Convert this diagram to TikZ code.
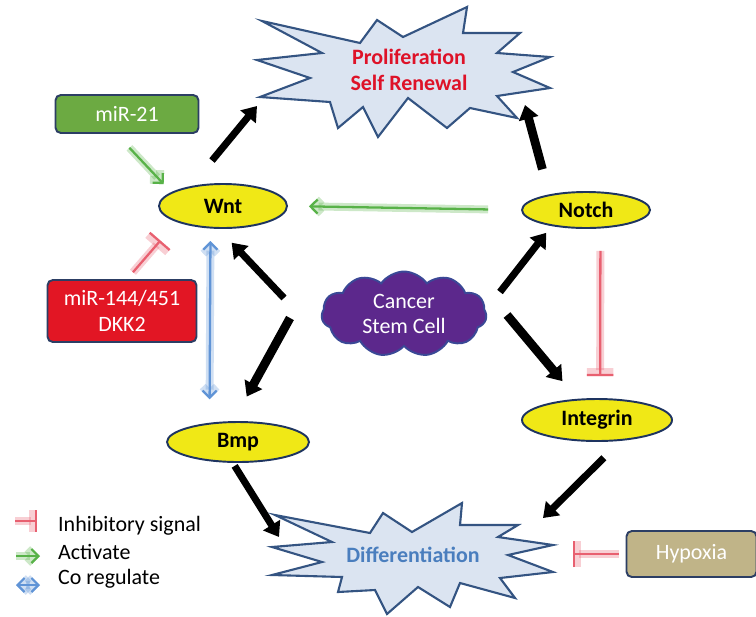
\documentclass[tikz,border=0pt]{standalone}
\usepackage{fontspec}
\setmainfont{Carlito}
\usepackage{xcolor}
\usepackage{tikz}
\usetikzlibrary{positioning,shapes,calc}
\usetikzlibrary{arrows.meta}

\definecolor{starfill}{RGB}{219,228,241}
\definecolor{starline}{RGB}{52,84,130}
\definecolor{geneyellow}{RGB}{240,232,22}
\definecolor{geneline}{RGB}{30,52,96}
\definecolor{mirgreen}{RGB}{108,170,66}
\definecolor{mirred}{RGB}{226,22,36}
\definecolor{hypoxtan}{RGB}{192,180,136}
\definecolor{boxline}{RGB}{44,62,100}
\definecolor{cscpurple}{RGB}{92,40,140}
\definecolor{cscline}{RGB}{58,72,150}
\definecolor{prolifred}{RGB}{222,18,40}
\definecolor{diffblue}{RGB}{74,126,190}
\definecolor{actgreen}{RGB}{88,178,72}
\definecolor{inhred}{RGB}{232,96,112}
\definecolor{coblue}{RGB}{96,148,214}

\begin{document}
\begin{tikzpicture}[x=0.02cm,y=-0.02cm,font=\fontsize{12.5}{14.5}\selectfont,align=center]
            \tikzstyle{burst}=[draw=starline,fill=starfill,line width=1.2pt,line join=miter]
            \tikzstyle{gene}=[ellipse,draw=geneline,fill=geneyellow,line width=1.1pt,inner sep=0pt,font=\fontsize{12.5}{14.5}\selectfont\bfseries]
            \tikzstyle{mir}=[rectangle,rounded corners=3pt,draw=boxline,line width=1.1pt,text=white]
            \tikzstyle{big}=[line width=4pt,-{Triangle[length=8pt,width=11pt]}]
            \tikzstyle{act}=[draw=actgreen,line width=1.3pt,-{Straight Barb[length=4pt,width=8pt]},preaction={draw=actgreen,line width=4.5pt,opacity=.3}]
            \tikzstyle{inh}=[draw=inhred,line width=1.3pt,-{Bar[width=15pt]},preaction={draw=inhred,line width=4.5pt,opacity=.3}]
            \tikzstyle{coreg}=[draw=coblue,line width=1.3pt,{Straight Barb[length=4pt,width=8pt]}-{Straight Barb[length=4pt,width=8pt]},preaction={draw=coblue,line width=4.5pt,opacity=.3}]

            \useasboundingbox (0,0) rectangle (756,616);
            \clip (0,0) rectangle (756,616);

            % the two outcome bursts
            \draw[burst] (262,21) -- (360,43) -- (377,20) -- (403,37) -- (467,7) -- (463,33) -- (520,33) -- (497,53)
                -- (550,57) -- (513,72) -- (550,88) -- (497,96) -- (517,118) -- (470,108) -- (447,128) -- (408,98)
                -- (378,137) -- (363,107) -- (338,128) -- (330,102) -- (260,97) -- (310,78) -- (257,60) -- (322,53) -- cycle;
            \draw[burst] (275,515) -- (370,533) -- (383,513) -- (412,532) -- (462,503) -- (460,525) -- (518,525) -- (498,537)
                -- (553,545) -- (508,555) -- (553,572) -- (500,578) -- (515,598) -- (460,583) -- (450,607) -- (418,587)
                -- (387,614) -- (375,590) -- (338,592) -- (342,577) -- (272,575) -- (322,562) -- (272,547) -- (332,542) -- cycle;
            \node[text=prolifred,font=\fontsize{12.5}{14.5}\selectfont\bfseries] (P) at (409,70) {Proliferation\\Self Renewal};
            \node[text=diffblue,font=\fontsize{12.5}{14.5}\selectfont\bfseries] (D) at (413,555) {Differentiation};

            % pathways
            \node[gene,minimum width=2.56cm,minimum height=0.88cm] (W) at (223,206) {Wnt};
            \node[gene,minimum width=2.56cm,minimum height=0.72cm] (N) at (586,210) {Notch};
            \node[gene,minimum width=3cm,minimum height=0.84cm] (I) at (597,420) {Integrin};
            \node[gene,minimum width=2.84cm,minimum height=0.8cm] (B) at (238,442) {Bmp};
            \node[cloud,cloud puffs=11,cloud puff arc=110,aspect=2,draw=cscline,fill=cscpurple,text=white,line width=1.1pt,
                  minimum width=3.3cm,minimum height=1.7cm,inner sep=0pt] (C) at (404,314) {Cancer\\Stem Cell};

            % regulators
            \node[mir,fill=mirgreen,minimum width=2.86cm,minimum height=0.76cm] (M21) at (127,114) {miR-21};
            \node[mir,fill=mirred,minimum width=2.98cm,minimum height=1.24cm] (M144) at (122,311) {miR-144/451\\DKK2};
            \node[mir,fill=hypoxtan,minimum width=2.6cm,minimum height=0.92cm] (H) at (691.5,554) {Hypoxia};

            % arrow ends on the bursts and round the stem cell
            \coordinate (p1) at (257,106);
            \coordinate (p2) at (525,105);
            \coordinate (d1) at (279,537);
            \coordinate (d2) at (543,518);
            \coordinate (d3) at (573,554);
            \coordinate (c1) at (500,292);
            \coordinate (c2) at (507,315);
            \coordinate (c3) at (284,298);
            \coordinate (c4) at (290,318);

            \path (W.148) edge[big,shorten <=6.6mm] (p1)
                  (N.157) edge[big,line width=5pt,shorten <=5.2mm] (p2)
                  (c1) edge[big,shorten >=1.7mm] (N.205)
                  (c2) edge[big,line width=5pt,shorten >=4.6mm] (I.133)
                  (c3) edge[big,shorten >=3.8mm] (W.259)
                  (c4) edge[big,line width=5pt,shorten >=5.6mm] (B.103)
                  (B.256) edge[big,shorten <=0.7mm] (d1)
                  (I.-41) edge[big,shorten <=4.8mm] (d2);

            \path (N.west) edge[act,shorten <=6.6mm,shorten >=4.2mm] (W.east)
                  (M21.242) edge[act,shorten <=3.8mm,shorten >=2.2mm] (W.165)
                  (M144.81) edge[inh,shorten <=1.8mm,shorten >=4.9mm] (W.199)
                  (N.308) edge[inh,shorten <=4.5mm,shorten >=4.4mm] (I.82)
                  (H.west) edge[inh,shorten <=1.4mm] (d3)
                  (W.241) edge[coreg,shorten <=2.5mm,shorten >=4.7mm] (B.146);

            % key
            \node[anchor=west] (l1) at (52,526) {Inhibitory signal};
            \node[anchor=west] (l2) at (52,552) {Activate};
            \node[anchor=west] (l3) at (52,579) {Co regulate};
            \draw[inh,-{Bar[width=12pt]}] ($(l1.west)+(-37,-5)$) -- ++(22,0);
            \draw[act] ($(l2.west)+(-36,4)$) -- ++(24,0);
            \draw[coreg] ($(l3.west)+(-36,6)$) -- ++(24,0);
\end{tikzpicture}
\end{document}
